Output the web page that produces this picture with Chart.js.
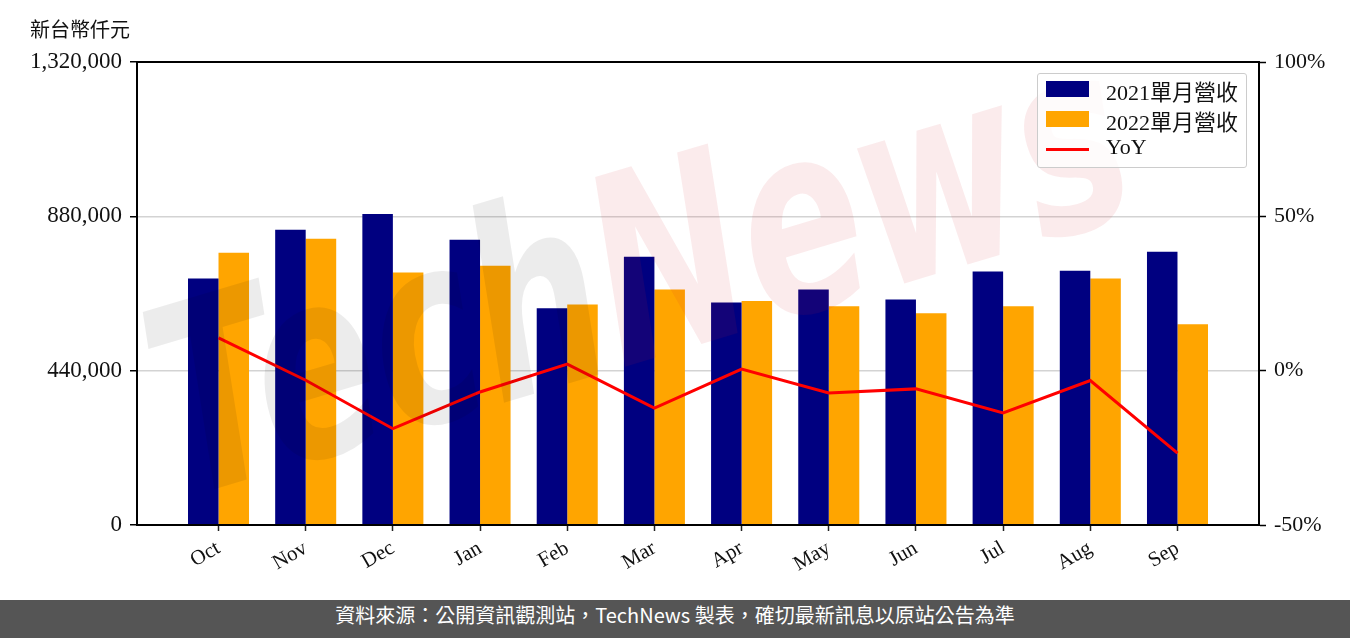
<!DOCTYPE html>
<html>
<head>
<meta charset="utf-8">
<script src="https://cdn.jsdelivr.net/npm/chart.js@4"></script>
<style>
	body { margin: 0; background: #fff; }
	#wrap { position: relative; width: 1350px; height: 638px; overflow: hidden; }
	#unit { position: absolute; left: 30px; top: 14px; font: 20px "Noto Sans CJK TC", sans-serif; color: #111; }
	#legend { position: absolute; left: 1037px; top: 73px; width: 208px; height: 93px; border: 1px solid #ccc; border-radius: 3px; background: rgba(255,255,255,0.8); }
	.item { position: absolute; left: 0; height: 30px; width: 100%; }
	.swatch { position: absolute; left: 8px; }
	.label { position: absolute; left: 68px; top: 0; line-height: 30px; font: 22px "Liberation Serif", "Noto Sans CJK TC", serif; color: #111; white-space: nowrap; }
	#footer { position: absolute; left: 0; top: 600px; width: 1350px; height: 38px; background: #555; color: #fff; text-align: center; line-height: 38px; font: 20px "Noto Sans CJK TC", sans-serif; }
</style>
</head>
<body>
<div id="wrap">
	<canvas id="chart" width="1350" height="600"></canvas>
	<div id="unit">新台幣仟元</div>
	<div id="legend"></div>
	<div id="footer">資料來源：公開資訊觀測站，TechNews 製表，確切最新訊息以原站公告為準</div>
</div>
<script>
// monthly revenue, thousand NTD
var months = ['Oct', 'Nov', 'Dec', 'Jan', 'Feb', 'Mar', 'Apr', 'May', 'Jun', 'Jul', 'Aug', 'Sep'];
var rev2021 = [702600, 841400, 886700, 813100, 617600, 764900, 634600, 671400, 643100, 722400, 725200, 779100];
var rev2022 = [776200, 815900, 719600, 739400, 628900, 671400, 638300, 623300, 603400, 623300, 702600, 572300];
var yoy = [10.6, -3.1, -18.8, -6.9, 2.1, -12.1, 0.5, -7.2, -5.9, -13.7, -3.2, -26.7];
var revTicks = [0, 440000, 880000, 1320000];
var yoyTicks = [-50, 0, 50, 100];

var serif = '"Liberation Serif", "DejaVu Serif", serif';

function toPoints(values) {
	return values.map(function(v, i) { return { x: i, y: v }; });
}

// outer box of the plot, like matplotlib spines
var framePlugin = {
	id: 'frame',
	afterDraw: function(chart) {
		var a = chart.chartArea;
		var ctx = chart.ctx;
		ctx.save();
		ctx.strokeStyle = '#000';
		ctx.lineWidth = 2;
		ctx.strokeRect(a.left, a.top, a.right - a.left, a.bottom - a.top);
		ctx.restore();
	}
};

// faint TechNews watermark over the bars
var watermarkPlugin = {
	id: 'watermark',
	afterDatasetsDraw: function(chart) {
		var ctx = chart.ctx;
		ctx.save();
		ctx.translate(645, 290);
		ctx.rotate(-0.29);
		ctx.scale(1, 1.45);
		ctx.font = 'italic bold 180px "DejaVu Sans", sans-serif';
		ctx.textBaseline = 'middle';
		var w1 = ctx.measureText('Tech').width;
		var w2 = ctx.measureText('News').width;
		var x0 = -(w1 + w2) / 2;
		ctx.fillStyle = 'rgba(0,0,0,0.075)';
		ctx.fillText('Tech', x0, 0);
		ctx.fillStyle = 'rgba(210,30,40,0.09)';
		ctx.fillText('News', x0 + w1, 0);
		ctx.restore();
	}
};

var ctx = document.getElementById('chart').getContext('2d');
var chart = new Chart(ctx, {
	type: 'bar',
	data: {
		datasets: [
		{
			label: '2021單月營收',
			data: toPoints(rev2021),
			backgroundColor: '#000080',
			order: 1
		},
		{
			label: '2022單月營收',
			data: toPoints(rev2022),
			backgroundColor: '#FFA500',
			order: 1
		},
		{
			type: 'line',
			label: 'YoY',
			data: toPoints(yoy),
			yAxisID: 'y1',
			borderColor: '#FF0000',
			backgroundColor: '#FF0000',
			borderWidth: 3,
			pointRadius: 0,
			tension: 0,
			order: 0
		}
		]
	},
	options: {
		responsive: false,
		animation: false,
		categoryPercentage: 0.7,
		barPercentage: 1.0,
		layout: { padding: { top: 62, left: 0, right: 0, bottom: 0 } },
		plugins: {
			legend: { display: false },
			tooltip: { enabled: false }
		},
		scales: {
			x: {
				type: 'linear',
				min: -0.935,
				max: 11.935,
				offset: false,
				afterBuildTicks: function(scale) {
					scale.ticks = months.map(function(m, i) { return { value: i }; });
				},
				afterFit: function(scale) { scale.height = 75; },
				ticks: {
					autoSkip: false,
					minRotation: 30,
					maxRotation: 30,
					padding: 5,
					color: '#111',
					font: { family: serif, size: 21 },
					callback: function(value) { return months[value]; }
				},
				grid: {
					offset: false,
					drawOnChartArea: false,
					drawTicks: true,
					tickLength: 6,
					tickColor: '#222',
					tickWidth: 1.5
				},
				border: { color: '#000', width: 2 }
			},
			y: {
				position: 'left',
				min: 0,
				max: 1320000,
				afterBuildTicks: function(scale) {
					scale.ticks = revTicks.map(function(v) { return { value: v }; });
				},
				afterFit: function(scale) { scale.width = 137; },
				ticks: {
					padding: 8,
					color: '#111',
					font: { family: serif, size: 23 },
					callback: function(value) { return value.toLocaleString('en-US'); }
				},
				grid: {
					color: '#d3d3d3',
					lineWidth: 1.5,
					drawTicks: true,
					tickLength: 7,
					tickColor: '#000',
					tickWidth: 1.5
				},
				border: { color: '#000', width: 2 }
			},
			y1: {
				position: 'right',
				min: -50,
				max: 100,
				afterBuildTicks: function(scale) {
					scale.ticks = yoyTicks.map(function(v) { return { value: v }; });
				},
				afterFit: function(scale) { scale.width = 91; },
				ticks: {
					padding: 8,
					color: '#111',
					font: { family: serif, size: 22 },
					callback: function(value) { return value + '%'; }
				},
				grid: {
					drawOnChartArea: false,
					drawTicks: true,
					tickLength: 7,
					tickColor: '#000',
					tickWidth: 1.5
				},
				border: { color: '#000', width: 2 }
			}
		}
	},
	plugins: [watermarkPlugin, framePlugin]
});

// legend inside the plot, built from the datasets
var legend = document.getElementById('legend');
chart.data.datasets.forEach(function(ds, i) {
	var item = document.createElement('div');
	item.className = 'item';
	item.style.top = (i * 30) + 'px';
	var sw = document.createElement('div');
	sw.className = 'swatch';
	sw.style.background = ds.type === 'line' ? ds.borderColor : ds.backgroundColor;
	sw.style.width = '43px';
	if (ds.type === 'line') {
		sw.style.height = '3px';
		sw.style.top = '14px';
	} else {
		sw.style.height = '16px';
		sw.style.top = '7px';
	}
	var lb = document.createElement('div');
	lb.className = 'label';
	lb.textContent = ds.label;
	item.appendChild(sw);
	item.appendChild(lb);
	legend.appendChild(item);
});
</script>
</body>
</html>
